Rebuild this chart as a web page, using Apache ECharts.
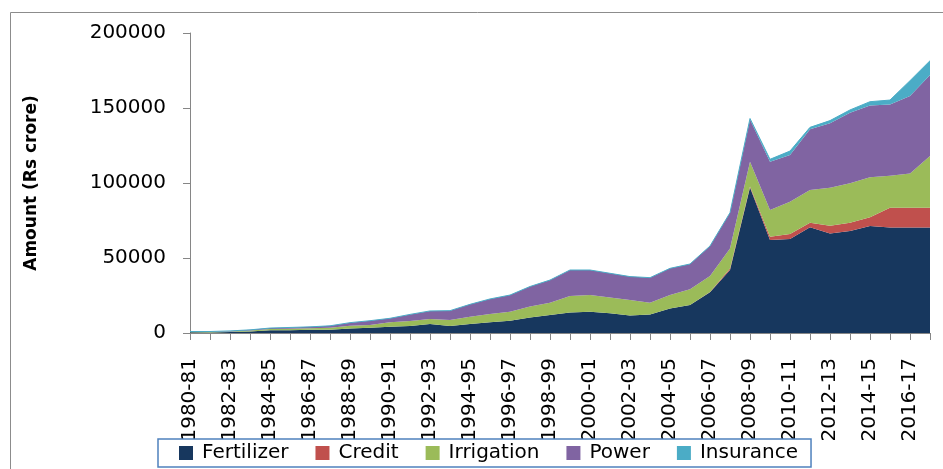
<!DOCTYPE html>
<html>
<head>
<meta charset="utf-8">
<script src="https://cdn.jsdelivr.net/npm/echarts@6/dist/echarts.min.js"></script>
<style>
  html, body { margin: 0; padding: 0; background: #fff; }
  #chart { width: 943px; height: 469px; }
</style>
</head>
<body>
<div id="chart"></div>
<script>
const years = [
  '1980-81', '1981-82', '1982-83', '1983-84', '1984-85', '1985-86', '1986-87', '1987-88',
  '1988-89', '1989-90', '1990-91', '1991-92', '1992-93', '1993-94', '1994-95', '1995-96',
  '1996-97', '1997-98', '1998-99', '1999-00', '2000-01', '2001-02', '2002-03', '2003-04',
  '2004-05', '2005-06', '2006-07', '2007-08', '2008-09', '2009-10', '2010-11', '2011-12',
  '2012-13', '2013-14', '2014-15', '2015-16', '2016-17', '2017-18'
]

// values in Rs crore
const fertilizer = [
  500, 400, 600, 1000, 1800, 1900, 2100, 2200, 3000, 3500, 4200, 4700, 6000, 4700, 6000, 7100,
  8200, 10300, 12000, 13600, 14200, 13100, 11600, 12400, 16400, 18700, 27100, 42000, 97000, 62000,
  62700, 70500, 66400, 68000, 71300, 70400, 70400, 70400
]
const credit = [
  0, 0, 0, 0, 0, 0, 0, 0, 0, 0, 0, 0, 0, 0, 0, 0,
  0, 0, 0, 0, 0, 0, 0, 0, 0, 0, 300, 1000, 700, 2200,
  3300, 3000, 5100, 5500, 5800, 13100, 13100, 13100
]
const irrigation = [
  200, 300, 400, 600, 900, 1000, 1000, 1300, 1900, 1800, 2900, 3300, 3300, 4000, 4900, 5600,
  6000, 7300, 8200, 11100, 11100, 10500, 10400, 7800, 8900, 10400, 10600, 13400, 16500, 17800,
  21500, 21800, 25400, 26300, 26700, 21400, 22900, 34500
]
const power = [
  300, 300, 400, 500, 600, 800, 1000, 1300, 2000, 2900, 2700, 4400, 5400, 6200, 8200, 10000,
  11100, 13400, 15100, 17300, 16700, 16200, 15600, 16700, 17800, 16900, 20000, 23800, 28200, 32200,
  31200, 40600, 42900, 47100, 47800, 47500, 51600, 54000
]
const insurance = [
  0, 0, 0, 0, 0, 0, 0, 0, 0, 0, 0, 0, 0, 0, 0, 0,
  0, 0, 0, 0, 0, 0, 0, 0, 0, 0, 0, 0, 600, 1600,
  2600, 1200, 1800, 1800, 2600, 2900, 10200, 9500
]

const seriesList = [
  { name: 'Fertilizer', data: fertilizer, color: '#17375e' },
  { name: 'Credit', data: credit, color: '#c0504d' },
  { name: 'Irrigation', data: irrigation, color: '#9bbb59' },
  { name: 'Power', data: power, color: '#8064a2' },
  { name: 'Insurance', data: insurance, color: '#4bacc6' }
]

const font = 'DejaVu Sans'
const chart = echarts.init(document.getElementById('chart'))

chart.setOption({
  backgroundColor: '#fff',
  animation: false,
  textStyle: { fontFamily: font },
  graphic: [
    {
      type: 'rect',
      shape: { x: 10.5, y: 12.5, width: 1000, height: 600 },
      style: { fill: 'none', stroke: '#8c8c8c', lineWidth: 1 },
      silent: true,
      z: -1
    }
  ],
  grid: { left: 190, right: 13, top: 33, bottom: 136 },
  legend: {
    left: 158,
    top: 439,
    padding: [4, 13, 4, 21],
    itemWidth: 14,
    itemHeight: 14,
    itemGap: 27,
    icon: 'rect',
    borderColor: '#4f81bd',
    borderWidth: 1.5,
    backgroundColor: '#fff',
    textStyle: { fontSize: 20, color: '#000', fontFamily: font, padding: [0, 0, 0, 4] },
    data: seriesList.map(s => s.name)
  },
  xAxis: {
    type: 'category',
    data: years,
    boundaryGap: false,
    axisLine: { lineStyle: { color: '#868686', width: 1 } },
    axisTick: { show: true, interval: 0, length: 7, lineStyle: { color: '#868686' } },
    axisLabel: {
      interval: 1,
      rotate: 90,
      margin: 25,
      fontSize: 20,
      color: '#000',
      fontFamily: font
    },
    splitLine: { show: false }
  },
  yAxis: {
    type: 'value',
    min: 0,
    max: 200000,
    interval: 50000,
    name: 'Amount (Rs crore)',
    nameLocation: 'middle',
    nameGap: 150,
    nameTextStyle: { fontSize: 17, fontWeight: 'bold', color: '#000', fontFamily: font },
    axisLine: { show: true, lineStyle: { color: '#868686', width: 1 } },
    axisTick: { show: true, length: 7, lineStyle: { color: '#868686' } },
    axisLabel: { margin: 24, fontSize: 20, color: '#000', fontFamily: font, formatter: v => String(v) },
    splitLine: { show: false }
  },
  series: seriesList.map(s => ({
    name: s.name,
    type: 'line',
    stack: 'total',
    data: s.data,
    symbol: 'none',
    color: s.color,
    lineStyle: { width: s.name === 'Insurance' ? 1 : 0, color: s.color },
    areaStyle: { color: s.color, opacity: 1 }
  }))
})
</script>
</body>
</html>
